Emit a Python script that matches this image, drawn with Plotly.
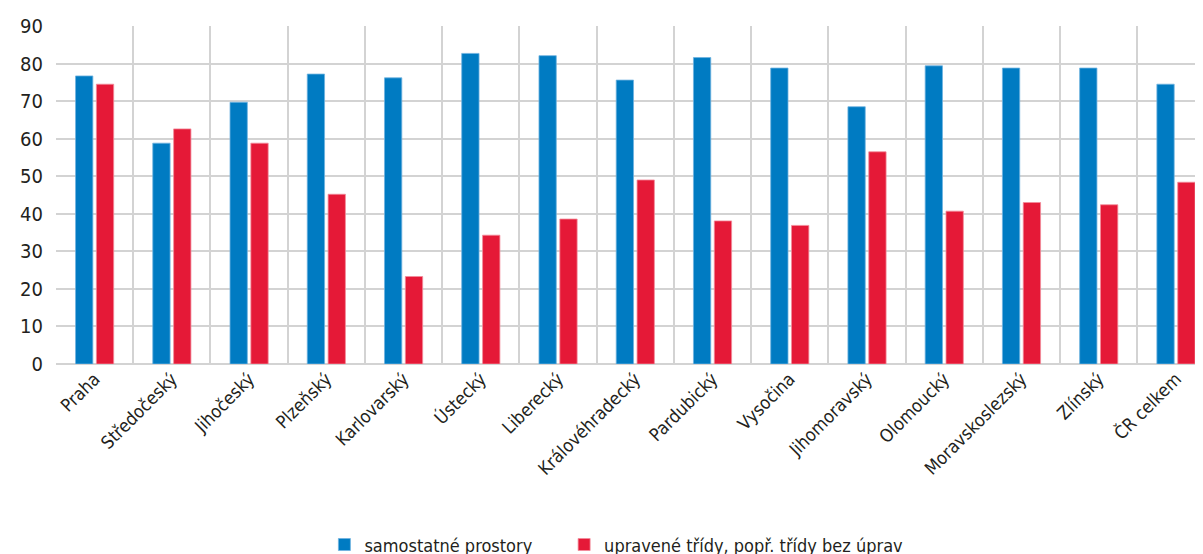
import plotly.graph_objects as go

categories = ["Praha", "Středočeský", "Jihočeský", "Plzeňský", "Karlovarský", "Ústecký",
              "Liberecký", "Královéhradecký", "Pardubický", "Vysočina", "Jihomoravský",
              "Olomoucký", "Moravskoslezský", "Zlínský", "ČR celkem"]
samostatne = [76.7, 58.8, 69.7, 77.2, 76.2, 82.7, 82.1, 75.6, 81.6, 78.8, 68.5, 79.4, 78.8, 78.8, 74.5]
upravene = [74.5, 62.6, 58.8, 45.2, 23.3, 34.3, 38.6, 49.0, 38.1, 36.9, 56.5, 40.7, 43.0, 42.4, 48.4]
series_names = ["samostatné prostory", "upravené třídy, popř. třídy bez úprav"]
y_ticks = [0, 10, 20, 30, 40, 50, 60, 70, 80, 90]

FONT = "DejaVu Sans Condensed, Liberation Sans Narrow, Roboto, sans-serif"
TXT = "#231F20"
GRID = "#D3D3D3"

fig = go.Figure()
fig.add_trace(go.Bar(x=categories, y=samostatne, name=series_names[0], legend="legend",
                     showlegend=True,
                     marker=dict(color="#007BC2", line=dict(color="#6FB3E0", width=0.8))))
fig.add_trace(go.Bar(x=categories, y=upravene, name=series_names[1], legend="legend2",
                     showlegend=True,
                     marker=dict(color="#E51937", line=dict(color="#F28C9B", width=0.8))))

leg_common = dict(orientation="h", xanchor="left", y=-0.535, yanchor="middle",
                  font=dict(size=18, family=FONT, color=TXT), itemwidth=30,
                  bgcolor="rgba(0,0,0,0)", visible=True)

fig.update_layout(
    width=1203, height=554,
    showlegend=True,
    margin=dict(l=48, r=8, t=18, b=198, autoexpand=False),
    paper_bgcolor="white", plot_bgcolor="white",
    barmode="group", bargap=0.46, bargroupgap=0.17,
    font=dict(family=FONT, color=TXT, size=18),
    legend=dict(x=0.234, **leg_common),
    legend2=dict(x=0.443, **leg_common),
    xaxis=dict(range=[-0.5, 14.35], tickangle=-45, tickson="boundaries", showgrid=True,
               gridcolor=GRID, gridwidth=2, ticks="", showline=False, zeroline=False,
               tickfont=dict(size=18, family=FONT, color=TXT)),
    yaxis=dict(range=[0, 90], tickvals=y_ticks, showgrid=True, gridcolor=GRID, gridwidth=2,
               zeroline=True, zerolinecolor=GRID, zerolinewidth=2, showline=False, ticks="",
               ticklabelstandoff=12,
               tickfont=dict(size=20, family=FONT, color=TXT)),
)

fig.write_html("out.html")
